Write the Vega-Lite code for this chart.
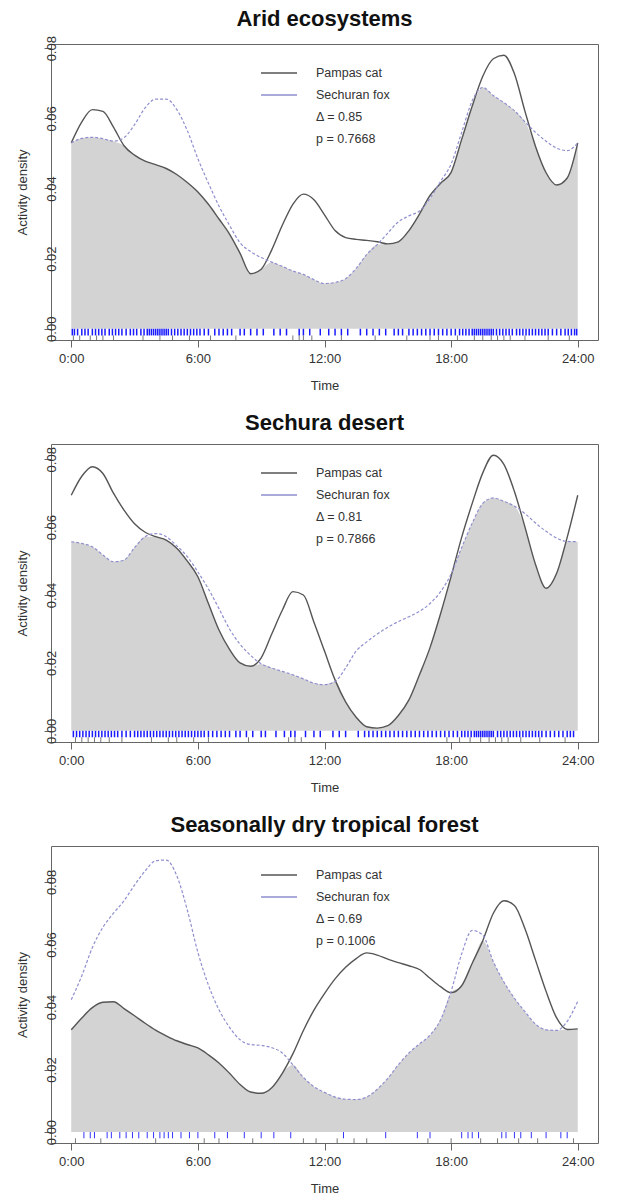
{
"$schema": "https://vega.github.io/schema/vega-lite/v6.json",
"background": "white",
"padding": {"left": 16, "top": 7, "right": 5, "bottom": 3},
"datasets": {
"curves": [
{"panel":1,"species":"Pampas cat","time":0,"density":0.053},{"panel":1,"species":"Pampas cat","time":0.5,"density":0.059},{"panel":1,"species":"Pampas cat","time":1,"density":0.0625},{"panel":1,"species":"Pampas cat","time":1.5,"density":0.062},{"panel":1,"species":"Pampas cat","time":2,"density":0.0575},{"panel":1,"species":"Pampas cat","time":2.5,"density":0.0522},{"panel":1,"species":"Pampas cat","time":3,"density":0.0495},{"panel":1,"species":"Pampas cat","time":3.5,"density":0.0478},{"panel":1,"species":"Pampas cat","time":4,"density":0.0468},{"panel":1,"species":"Pampas cat","time":4.5,"density":0.0457},{"panel":1,"species":"Pampas cat","time":5,"density":0.044},{"panel":1,"species":"Pampas cat","time":5.5,"density":0.0417},{"panel":1,"species":"Pampas cat","time":6,"density":0.039},{"panel":1,"species":"Pampas cat","time":6.5,"density":0.0355},{"panel":1,"species":"Pampas cat","time":7,"density":0.0313},{"panel":1,"species":"Pampas cat","time":7.5,"density":0.027},{"panel":1,"species":"Pampas cat","time":8,"density":0.0215},{"panel":1,"species":"Pampas cat","time":8.5,"density":0.0157},{"panel":1,"species":"Pampas cat","time":9,"density":0.017},{"panel":1,"species":"Pampas cat","time":9.5,"density":0.0225},{"panel":1,"species":"Pampas cat","time":10,"density":0.0295},{"panel":1,"species":"Pampas cat","time":10.5,"density":0.0355},{"panel":1,"species":"Pampas cat","time":11,"density":0.0384},{"panel":1,"species":"Pampas cat","time":11.5,"density":0.0368},{"panel":1,"species":"Pampas cat","time":12,"density":0.0325},{"panel":1,"species":"Pampas cat","time":12.5,"density":0.028},{"panel":1,"species":"Pampas cat","time":13,"density":0.026},{"panel":1,"species":"Pampas cat","time":13.5,"density":0.0255},{"panel":1,"species":"Pampas cat","time":14,"density":0.0252},{"panel":1,"species":"Pampas cat","time":14.5,"density":0.0248},{"panel":1,"species":"Pampas cat","time":15,"density":0.0242},{"panel":1,"species":"Pampas cat","time":15.5,"density":0.0248},{"panel":1,"species":"Pampas cat","time":16,"density":0.028},{"panel":1,"species":"Pampas cat","time":16.5,"density":0.0327},{"panel":1,"species":"Pampas cat","time":17,"density":0.038},{"panel":1,"species":"Pampas cat","time":17.5,"density":0.0415},{"panel":1,"species":"Pampas cat","time":18,"density":0.0446},{"panel":1,"species":"Pampas cat","time":18.5,"density":0.054},{"panel":1,"species":"Pampas cat","time":19,"density":0.0635},{"panel":1,"species":"Pampas cat","time":19.5,"density":0.072},{"panel":1,"species":"Pampas cat","time":20,"density":0.077},{"panel":1,"species":"Pampas cat","time":20.5,"density":0.078},{"panel":1,"species":"Pampas cat","time":21,"density":0.0727},{"panel":1,"species":"Pampas cat","time":21.5,"density":0.062},{"panel":1,"species":"Pampas cat","time":22,"density":0.052},{"panel":1,"species":"Pampas cat","time":22.5,"density":0.0445},{"panel":1,"species":"Pampas cat","time":23,"density":0.041},{"panel":1,"species":"Pampas cat","time":23.5,"density":0.043},{"panel":1,"species":"Pampas cat","time":24,"density":0.053},
{"panel":1,"species":"Sechuran fox","time":0,"density":0.053},{"panel":1,"species":"Sechuran fox","time":0.5,"density":0.0543},{"panel":1,"species":"Sechuran fox","time":1,"density":0.0546},{"panel":1,"species":"Sechuran fox","time":1.5,"density":0.0542},{"panel":1,"species":"Sechuran fox","time":2,"density":0.0535},{"panel":1,"species":"Sechuran fox","time":2.5,"density":0.0545},{"panel":1,"species":"Sechuran fox","time":3,"density":0.0582},{"panel":1,"species":"Sechuran fox","time":3.5,"density":0.063},{"panel":1,"species":"Sechuran fox","time":4,"density":0.0655},{"panel":1,"species":"Sechuran fox","time":4.5,"density":0.0655},{"panel":1,"species":"Sechuran fox","time":5,"density":0.0625},{"panel":1,"species":"Sechuran fox","time":5.5,"density":0.0565},{"panel":1,"species":"Sechuran fox","time":6,"density":0.0485},{"panel":1,"species":"Sechuran fox","time":6.5,"density":0.0415},{"panel":1,"species":"Sechuran fox","time":7,"density":0.035},{"panel":1,"species":"Sechuran fox","time":7.5,"density":0.0295},{"panel":1,"species":"Sechuran fox","time":8,"density":0.0245},{"panel":1,"species":"Sechuran fox","time":8.5,"density":0.022},{"panel":1,"species":"Sechuran fox","time":9,"density":0.0203},{"panel":1,"species":"Sechuran fox","time":9.5,"density":0.019},{"panel":1,"species":"Sechuran fox","time":10,"density":0.0178},{"panel":1,"species":"Sechuran fox","time":10.5,"density":0.0165},{"panel":1,"species":"Sechuran fox","time":11,"density":0.0155},{"panel":1,"species":"Sechuran fox","time":11.5,"density":0.014},{"panel":1,"species":"Sechuran fox","time":12,"density":0.0129},{"panel":1,"species":"Sechuran fox","time":12.5,"density":0.0132},{"panel":1,"species":"Sechuran fox","time":13,"density":0.0143},{"panel":1,"species":"Sechuran fox","time":13.5,"density":0.0172},{"panel":1,"species":"Sechuran fox","time":14,"density":0.0212},{"panel":1,"species":"Sechuran fox","time":14.5,"density":0.024},{"panel":1,"species":"Sechuran fox","time":15,"density":0.0273},{"panel":1,"species":"Sechuran fox","time":15.5,"density":0.0305},{"panel":1,"species":"Sechuran fox","time":16,"density":0.0322},{"panel":1,"species":"Sechuran fox","time":16.5,"density":0.0336},{"panel":1,"species":"Sechuran fox","time":17,"density":0.0372},{"panel":1,"species":"Sechuran fox","time":17.5,"density":0.042},{"panel":1,"species":"Sechuran fox","time":18,"density":0.047},{"panel":1,"species":"Sechuran fox","time":18.5,"density":0.056},{"panel":1,"species":"Sechuran fox","time":19,"density":0.065},{"panel":1,"species":"Sechuran fox","time":19.5,"density":0.0688},{"panel":1,"species":"Sechuran fox","time":20,"density":0.0665},{"panel":1,"species":"Sechuran fox","time":20.5,"density":0.0645},{"panel":1,"species":"Sechuran fox","time":21,"density":0.0622},{"panel":1,"species":"Sechuran fox","time":21.5,"density":0.059},{"panel":1,"species":"Sechuran fox","time":22,"density":0.056},{"panel":1,"species":"Sechuran fox","time":22.5,"density":0.0535},{"panel":1,"species":"Sechuran fox","time":23,"density":0.0515},{"panel":1,"species":"Sechuran fox","time":23.5,"density":0.0508},{"panel":1,"species":"Sechuran fox","time":24,"density":0.053},
{"panel":2,"species":"Pampas cat","time":0,"density":0.0694},{"panel":2,"species":"Pampas cat","time":0.5,"density":0.075},{"panel":2,"species":"Pampas cat","time":1,"density":0.0778},{"panel":2,"species":"Pampas cat","time":1.5,"density":0.0758},{"panel":2,"species":"Pampas cat","time":2,"density":0.07},{"panel":2,"species":"Pampas cat","time":2.5,"density":0.065},{"panel":2,"species":"Pampas cat","time":3,"density":0.061},{"panel":2,"species":"Pampas cat","time":3.5,"density":0.0585},{"panel":2,"species":"Pampas cat","time":4,"density":0.0572},{"panel":2,"species":"Pampas cat","time":4.5,"density":0.0562},{"panel":2,"species":"Pampas cat","time":5,"density":0.0538},{"panel":2,"species":"Pampas cat","time":5.5,"density":0.05},{"panel":2,"species":"Pampas cat","time":6,"density":0.0454},{"panel":2,"species":"Pampas cat","time":6.5,"density":0.0375},{"panel":2,"species":"Pampas cat","time":7,"density":0.0297},{"panel":2,"species":"Pampas cat","time":7.5,"density":0.024},{"panel":2,"species":"Pampas cat","time":8,"density":0.02},{"panel":2,"species":"Pampas cat","time":8.5,"density":0.019},{"panel":2,"species":"Pampas cat","time":9,"density":0.0215},{"panel":2,"species":"Pampas cat","time":9.5,"density":0.0285},{"panel":2,"species":"Pampas cat","time":10,"density":0.0355},{"panel":2,"species":"Pampas cat","time":10.5,"density":0.041},{"panel":2,"species":"Pampas cat","time":11,"density":0.04},{"panel":2,"species":"Pampas cat","time":11.5,"density":0.032},{"panel":2,"species":"Pampas cat","time":12,"density":0.0235},{"panel":2,"species":"Pampas cat","time":12.5,"density":0.015},{"panel":2,"species":"Pampas cat","time":13,"density":0.0085},{"panel":2,"species":"Pampas cat","time":13.5,"density":0.004},{"panel":2,"species":"Pampas cat","time":14,"density":0.0012},{"panel":2,"species":"Pampas cat","time":14.5,"density":0.0008},{"panel":2,"species":"Pampas cat","time":15,"density":0.0015},{"panel":2,"species":"Pampas cat","time":15.5,"density":0.0045},{"panel":2,"species":"Pampas cat","time":16,"density":0.0091},{"panel":2,"species":"Pampas cat","time":16.5,"density":0.0165},{"panel":2,"species":"Pampas cat","time":17,"density":0.0245},{"panel":2,"species":"Pampas cat","time":17.5,"density":0.0345},{"panel":2,"species":"Pampas cat","time":18,"density":0.0455},{"panel":2,"species":"Pampas cat","time":18.5,"density":0.057},{"panel":2,"species":"Pampas cat","time":19,"density":0.067},{"panel":2,"species":"Pampas cat","time":19.5,"density":0.076},{"panel":2,"species":"Pampas cat","time":20,"density":0.0812},{"panel":2,"species":"Pampas cat","time":20.5,"density":0.0785},{"panel":2,"species":"Pampas cat","time":21,"density":0.0705},{"panel":2,"species":"Pampas cat","time":21.5,"density":0.06},{"panel":2,"species":"Pampas cat","time":22,"density":0.049},{"panel":2,"species":"Pampas cat","time":22.5,"density":0.042},{"panel":2,"species":"Pampas cat","time":23,"density":0.0464},{"panel":2,"species":"Pampas cat","time":23.5,"density":0.057},{"panel":2,"species":"Pampas cat","time":24,"density":0.0694},
{"panel":2,"species":"Sechuran fox","time":0,"density":0.0557},{"panel":2,"species":"Sechuran fox","time":0.5,"density":0.0552},{"panel":2,"species":"Sechuran fox","time":1,"density":0.0542},{"panel":2,"species":"Sechuran fox","time":1.5,"density":0.0518},{"panel":2,"species":"Sechuran fox","time":2,"density":0.0498},{"panel":2,"species":"Sechuran fox","time":2.5,"density":0.0503},{"panel":2,"species":"Sechuran fox","time":3,"density":0.054},{"panel":2,"species":"Sechuran fox","time":3.5,"density":0.0572},{"panel":2,"species":"Sechuran fox","time":4,"density":0.0581},{"panel":2,"species":"Sechuran fox","time":4.5,"density":0.0572},{"panel":2,"species":"Sechuran fox","time":5,"density":0.0545},{"panel":2,"species":"Sechuran fox","time":5.5,"density":0.0513},{"panel":2,"species":"Sechuran fox","time":6,"density":0.0468},{"panel":2,"species":"Sechuran fox","time":6.5,"density":0.0418},{"panel":2,"species":"Sechuran fox","time":7,"density":0.036},{"panel":2,"species":"Sechuran fox","time":7.5,"density":0.03},{"panel":2,"species":"Sechuran fox","time":8,"density":0.0255},{"panel":2,"species":"Sechuran fox","time":8.5,"density":0.0222},{"panel":2,"species":"Sechuran fox","time":9,"density":0.0197},{"panel":2,"species":"Sechuran fox","time":9.5,"density":0.0185},{"panel":2,"species":"Sechuran fox","time":10,"density":0.0175},{"panel":2,"species":"Sechuran fox","time":10.5,"density":0.0165},{"panel":2,"species":"Sechuran fox","time":11,"density":0.0153},{"panel":2,"species":"Sechuran fox","time":11.5,"density":0.014},{"panel":2,"species":"Sechuran fox","time":12,"density":0.0136},{"panel":2,"species":"Sechuran fox","time":12.5,"density":0.0145},{"panel":2,"species":"Sechuran fox","time":13,"density":0.0185},{"panel":2,"species":"Sechuran fox","time":13.5,"density":0.0235},{"panel":2,"species":"Sechuran fox","time":14,"density":0.0262},{"panel":2,"species":"Sechuran fox","time":14.5,"density":0.0285},{"panel":2,"species":"Sechuran fox","time":15,"density":0.0305},{"panel":2,"species":"Sechuran fox","time":15.5,"density":0.0322},{"panel":2,"species":"Sechuran fox","time":16,"density":0.0336},{"panel":2,"species":"Sechuran fox","time":16.5,"density":0.0352},{"panel":2,"species":"Sechuran fox","time":17,"density":0.0375},{"panel":2,"species":"Sechuran fox","time":17.5,"density":0.041},{"panel":2,"species":"Sechuran fox","time":18,"density":0.0462},{"panel":2,"species":"Sechuran fox","time":18.5,"density":0.054},{"panel":2,"species":"Sechuran fox","time":19,"density":0.0612},{"panel":2,"species":"Sechuran fox","time":19.5,"density":0.067},{"panel":2,"species":"Sechuran fox","time":20,"density":0.0686},{"panel":2,"species":"Sechuran fox","time":20.5,"density":0.0676},{"panel":2,"species":"Sechuran fox","time":21,"density":0.0662},{"panel":2,"species":"Sechuran fox","time":21.5,"density":0.064},{"panel":2,"species":"Sechuran fox","time":22,"density":0.0612},{"panel":2,"species":"Sechuran fox","time":22.5,"density":0.0588},{"panel":2,"species":"Sechuran fox","time":23,"density":0.0568},{"panel":2,"species":"Sechuran fox","time":23.5,"density":0.0558},{"panel":2,"species":"Sechuran fox","time":24,"density":0.0557},
{"panel":3,"species":"Pampas cat","time":0,"density":0.0327},{"panel":3,"species":"Pampas cat","time":0.5,"density":0.0365},{"panel":3,"species":"Pampas cat","time":1,"density":0.0398},{"panel":3,"species":"Pampas cat","time":1.5,"density":0.0415},{"panel":3,"species":"Pampas cat","time":2,"density":0.0417},{"panel":3,"species":"Pampas cat","time":2.5,"density":0.0395},{"panel":3,"species":"Pampas cat","time":3,"density":0.0372},{"panel":3,"species":"Pampas cat","time":3.5,"density":0.0348},{"panel":3,"species":"Pampas cat","time":4,"density":0.0326},{"panel":3,"species":"Pampas cat","time":4.5,"density":0.0308},{"panel":3,"species":"Pampas cat","time":5,"density":0.0292},{"panel":3,"species":"Pampas cat","time":5.5,"density":0.028},{"panel":3,"species":"Pampas cat","time":6,"density":0.0269},{"panel":3,"species":"Pampas cat","time":6.5,"density":0.0247},{"panel":3,"species":"Pampas cat","time":7,"density":0.0221},{"panel":3,"species":"Pampas cat","time":7.5,"density":0.0188},{"panel":3,"species":"Pampas cat","time":8,"density":0.0152},{"panel":3,"species":"Pampas cat","time":8.5,"density":0.0128},{"panel":3,"species":"Pampas cat","time":9,"density":0.0124},{"panel":3,"species":"Pampas cat","time":9.5,"density":0.0142},{"panel":3,"species":"Pampas cat","time":10,"density":0.0188},{"panel":3,"species":"Pampas cat","time":10.5,"density":0.025},{"panel":3,"species":"Pampas cat","time":11,"density":0.0325},{"panel":3,"species":"Pampas cat","time":11.5,"density":0.039},{"panel":3,"species":"Pampas cat","time":12,"density":0.0443},{"panel":3,"species":"Pampas cat","time":12.5,"density":0.049},{"panel":3,"species":"Pampas cat","time":13,"density":0.0527},{"panel":3,"species":"Pampas cat","time":13.5,"density":0.0555},{"panel":3,"species":"Pampas cat","time":14,"density":0.0573},{"panel":3,"species":"Pampas cat","time":14.5,"density":0.0566},{"panel":3,"species":"Pampas cat","time":15,"density":0.0553},{"panel":3,"species":"Pampas cat","time":15.5,"density":0.0542},{"panel":3,"species":"Pampas cat","time":16,"density":0.0532},{"panel":3,"species":"Pampas cat","time":16.5,"density":0.052},{"panel":3,"species":"Pampas cat","time":17,"density":0.0492},{"panel":3,"species":"Pampas cat","time":17.5,"density":0.0465},{"panel":3,"species":"Pampas cat","time":18,"density":0.0446},{"panel":3,"species":"Pampas cat","time":18.5,"density":0.0468},{"panel":3,"species":"Pampas cat","time":19,"density":0.054},{"panel":3,"species":"Pampas cat","time":19.5,"density":0.0612},{"panel":3,"species":"Pampas cat","time":20,"density":0.07},{"panel":3,"species":"Pampas cat","time":20.5,"density":0.074},{"panel":3,"species":"Pampas cat","time":21,"density":0.0725},{"panel":3,"species":"Pampas cat","time":21.5,"density":0.065},{"panel":3,"species":"Pampas cat","time":22,"density":0.055},{"panel":3,"species":"Pampas cat","time":22.5,"density":0.045},{"panel":3,"species":"Pampas cat","time":23,"density":0.0365},{"panel":3,"species":"Pampas cat","time":23.5,"density":0.0328},{"panel":3,"species":"Pampas cat","time":24,"density":0.033},
{"panel":3,"species":"Sechuran fox","time":0,"density":0.0423},{"panel":3,"species":"Sechuran fox","time":0.5,"density":0.05},{"panel":3,"species":"Sechuran fox","time":1,"density":0.059},{"panel":3,"species":"Sechuran fox","time":1.5,"density":0.0655},{"panel":3,"species":"Sechuran fox","time":2,"density":0.07},{"panel":3,"species":"Sechuran fox","time":2.5,"density":0.074},{"panel":3,"species":"Sechuran fox","time":3,"density":0.079},{"panel":3,"species":"Sechuran fox","time":3.5,"density":0.0835},{"panel":3,"species":"Sechuran fox","time":4,"density":0.0868},{"panel":3,"species":"Sechuran fox","time":4.5,"density":0.087},{"panel":3,"species":"Sechuran fox","time":5,"density":0.082},{"panel":3,"species":"Sechuran fox","time":5.5,"density":0.071},{"panel":3,"species":"Sechuran fox","time":6,"density":0.0575},{"panel":3,"species":"Sechuran fox","time":6.5,"density":0.047},{"panel":3,"species":"Sechuran fox","time":7,"density":0.0391},{"panel":3,"species":"Sechuran fox","time":7.5,"density":0.0335},{"panel":3,"species":"Sechuran fox","time":8,"density":0.0295},{"panel":3,"species":"Sechuran fox","time":8.5,"density":0.028},{"panel":3,"species":"Sechuran fox","time":9,"density":0.0277},{"panel":3,"species":"Sechuran fox","time":9.5,"density":0.027},{"panel":3,"species":"Sechuran fox","time":10,"density":0.0253},{"panel":3,"species":"Sechuran fox","time":10.5,"density":0.0215},{"panel":3,"species":"Sechuran fox","time":11,"density":0.0175},{"panel":3,"species":"Sechuran fox","time":11.5,"density":0.0145},{"panel":3,"species":"Sechuran fox","time":12,"density":0.0127},{"panel":3,"species":"Sechuran fox","time":12.5,"density":0.0112},{"panel":3,"species":"Sechuran fox","time":13,"density":0.0105},{"panel":3,"species":"Sechuran fox","time":13.5,"density":0.0104},{"panel":3,"species":"Sechuran fox","time":14,"density":0.0112},{"panel":3,"species":"Sechuran fox","time":14.5,"density":0.0137},{"panel":3,"species":"Sechuran fox","time":15,"density":0.0172},{"panel":3,"species":"Sechuran fox","time":15.5,"density":0.0215},{"panel":3,"species":"Sechuran fox","time":16,"density":0.0253},{"panel":3,"species":"Sechuran fox","time":16.5,"density":0.0282},{"panel":3,"species":"Sechuran fox","time":17,"density":0.031},{"panel":3,"species":"Sechuran fox","time":17.5,"density":0.0359},{"panel":3,"species":"Sechuran fox","time":18,"density":0.045},{"panel":3,"species":"Sechuran fox","time":18.5,"density":0.057},{"panel":3,"species":"Sechuran fox","time":19,"density":0.0645},{"panel":3,"species":"Sechuran fox","time":19.5,"density":0.063},{"panel":3,"species":"Sechuran fox","time":20,"density":0.0545},{"panel":3,"species":"Sechuran fox","time":20.5,"density":0.048},{"panel":3,"species":"Sechuran fox","time":21,"density":0.0428},{"panel":3,"species":"Sechuran fox","time":21.5,"density":0.0385},{"panel":3,"species":"Sechuran fox","time":22,"density":0.0345},{"panel":3,"species":"Sechuran fox","time":22.5,"density":0.0327},{"panel":3,"species":"Sechuran fox","time":23,"density":0.0325},{"panel":3,"species":"Sechuran fox","time":23.5,"density":0.0354},{"panel":3,"species":"Sechuran fox","time":24,"density":0.0418}
],
"rug": [
{"panel":1,"species":"Sechuran fox","time":0.05},{"panel":1,"species":"Sechuran fox","time":0.15},{"panel":1,"species":"Sechuran fox","time":0.3},{"panel":1,"species":"Sechuran fox","time":0.5},{"panel":1,"species":"Sechuran fox","time":0.65},{"panel":1,"species":"Sechuran fox","time":0.8},{"panel":1,"species":"Sechuran fox","time":1.0},{"panel":1,"species":"Sechuran fox","time":1.15},{"panel":1,"species":"Sechuran fox","time":1.3},{"panel":1,"species":"Sechuran fox","time":1.45},{"panel":1,"species":"Sechuran fox","time":1.6},{"panel":1,"species":"Sechuran fox","time":1.8},{"panel":1,"species":"Sechuran fox","time":1.95},{"panel":1,"species":"Sechuran fox","time":2.1},{"panel":1,"species":"Sechuran fox","time":2.25},{"panel":1,"species":"Sechuran fox","time":2.4},{"panel":1,"species":"Sechuran fox","time":2.6},{"panel":1,"species":"Sechuran fox","time":2.8},{"panel":1,"species":"Sechuran fox","time":2.95},{"panel":1,"species":"Sechuran fox","time":3.1},{"panel":1,"species":"Sechuran fox","time":3.3},{"panel":1,"species":"Sechuran fox","time":3.45},{"panel":1,"species":"Sechuran fox","time":3.6},{"panel":1,"species":"Sechuran fox","time":3.7},{"panel":1,"species":"Sechuran fox","time":3.8},{"panel":1,"species":"Sechuran fox","time":3.9},{"panel":1,"species":"Sechuran fox","time":4.0},{"panel":1,"species":"Sechuran fox","time":4.1},{"panel":1,"species":"Sechuran fox","time":4.2},{"panel":1,"species":"Sechuran fox","time":4.3},{"panel":1,"species":"Sechuran fox","time":4.4},{"panel":1,"species":"Sechuran fox","time":4.5},{"panel":1,"species":"Sechuran fox","time":4.6},{"panel":1,"species":"Sechuran fox","time":4.75},{"panel":1,"species":"Sechuran fox","time":4.9},{"panel":1,"species":"Sechuran fox","time":5.05},{"panel":1,"species":"Sechuran fox","time":5.2},{"panel":1,"species":"Sechuran fox","time":5.35},{"panel":1,"species":"Sechuran fox","time":5.5},{"panel":1,"species":"Sechuran fox","time":5.65},{"panel":1,"species":"Sechuran fox","time":5.8},{"panel":1,"species":"Sechuran fox","time":5.95},{"panel":1,"species":"Sechuran fox","time":6.1},{"panel":1,"species":"Sechuran fox","time":6.3},{"panel":1,"species":"Sechuran fox","time":6.5},{"panel":1,"species":"Sechuran fox","time":6.8},{"panel":1,"species":"Sechuran fox","time":7.0},{"panel":1,"species":"Sechuran fox","time":7.2},{"panel":1,"species":"Sechuran fox","time":7.4},{"panel":1,"species":"Sechuran fox","time":7.6},{"panel":1,"species":"Sechuran fox","time":8.0},{"panel":1,"species":"Sechuran fox","time":8.2},{"panel":1,"species":"Sechuran fox","time":8.5},{"panel":1,"species":"Sechuran fox","time":8.8},{"panel":1,"species":"Sechuran fox","time":9.1},{"panel":1,"species":"Sechuran fox","time":9.6},{"panel":1,"species":"Sechuran fox","time":9.9},{"panel":1,"species":"Sechuran fox","time":10.2},{"panel":1,"species":"Sechuran fox","time":10.8},{"panel":1,"species":"Sechuran fox","time":11.0},{"panel":1,"species":"Sechuran fox","time":11.3},{"panel":1,"species":"Sechuran fox","time":11.8},{"panel":1,"species":"Sechuran fox","time":12.2},{"panel":1,"species":"Sechuran fox","time":12.5},{"panel":1,"species":"Sechuran fox","time":12.8},{"panel":1,"species":"Sechuran fox","time":13.1},{"panel":1,"species":"Sechuran fox","time":13.7},{"panel":1,"species":"Sechuran fox","time":14.0},{"panel":1,"species":"Sechuran fox","time":14.3},{"panel":1,"species":"Sechuran fox","time":14.6},{"panel":1,"species":"Sechuran fox","time":14.9},{"panel":1,"species":"Sechuran fox","time":15.3},{"panel":1,"species":"Sechuran fox","time":15.5},{"panel":1,"species":"Sechuran fox","time":15.7},{"panel":1,"species":"Sechuran fox","time":16.0},{"panel":1,"species":"Sechuran fox","time":16.2},{"panel":1,"species":"Sechuran fox","time":16.4},{"panel":1,"species":"Sechuran fox","time":16.6},{"panel":1,"species":"Sechuran fox","time":16.8},{"panel":1,"species":"Sechuran fox","time":17.0},{"panel":1,"species":"Sechuran fox","time":17.2},{"panel":1,"species":"Sechuran fox","time":17.4},{"panel":1,"species":"Sechuran fox","time":17.6},{"panel":1,"species":"Sechuran fox","time":17.8},{"panel":1,"species":"Sechuran fox","time":18.0},{"panel":1,"species":"Sechuran fox","time":18.2},{"panel":1,"species":"Sechuran fox","time":18.4},{"panel":1,"species":"Sechuran fox","time":18.55},{"panel":1,"species":"Sechuran fox","time":18.7},{"panel":1,"species":"Sechuran fox","time":18.85},{"panel":1,"species":"Sechuran fox","time":19.0},{"panel":1,"species":"Sechuran fox","time":19.1},{"panel":1,"species":"Sechuran fox","time":19.2},{"panel":1,"species":"Sechuran fox","time":19.3},{"panel":1,"species":"Sechuran fox","time":19.4},{"panel":1,"species":"Sechuran fox","time":19.5},{"panel":1,"species":"Sechuran fox","time":19.6},{"panel":1,"species":"Sechuran fox","time":19.7},{"panel":1,"species":"Sechuran fox","time":19.8},{"panel":1,"species":"Sechuran fox","time":19.9},{"panel":1,"species":"Sechuran fox","time":20.0},{"panel":1,"species":"Sechuran fox","time":20.15},{"panel":1,"species":"Sechuran fox","time":20.3},{"panel":1,"species":"Sechuran fox","time":20.45},{"panel":1,"species":"Sechuran fox","time":20.6},{"panel":1,"species":"Sechuran fox","time":20.75},{"panel":1,"species":"Sechuran fox","time":20.9},{"panel":1,"species":"Sechuran fox","time":21.1},{"panel":1,"species":"Sechuran fox","time":21.25},{"panel":1,"species":"Sechuran fox","time":21.4},{"panel":1,"species":"Sechuran fox","time":21.55},{"panel":1,"species":"Sechuran fox","time":21.7},{"panel":1,"species":"Sechuran fox","time":21.85},{"panel":1,"species":"Sechuran fox","time":22.0},{"panel":1,"species":"Sechuran fox","time":22.15},{"panel":1,"species":"Sechuran fox","time":22.3},{"panel":1,"species":"Sechuran fox","time":22.45},{"panel":1,"species":"Sechuran fox","time":22.6},{"panel":1,"species":"Sechuran fox","time":22.8},{"panel":1,"species":"Sechuran fox","time":23.0},{"panel":1,"species":"Sechuran fox","time":23.2},{"panel":1,"species":"Sechuran fox","time":23.4},{"panel":1,"species":"Sechuran fox","time":23.55},{"panel":1,"species":"Sechuran fox","time":23.7},{"panel":1,"species":"Sechuran fox","time":23.85},{"panel":1,"species":"Sechuran fox","time":23.95},
{"panel":1,"species":"Pampas cat","time":0.1},{"panel":1,"species":"Pampas cat","time":0.4},{"panel":1,"species":"Pampas cat","time":0.9},{"panel":1,"species":"Pampas cat","time":1.2},{"panel":1,"species":"Pampas cat","time":1.5},{"panel":1,"species":"Pampas cat","time":2.0},{"panel":1,"species":"Pampas cat","time":3.4},{"panel":1,"species":"Pampas cat","time":4.2},{"panel":1,"species":"Pampas cat","time":4.8},{"panel":1,"species":"Pampas cat","time":5.6},{"panel":1,"species":"Pampas cat","time":6.6},{"panel":1,"species":"Pampas cat","time":7.8},{"panel":1,"species":"Pampas cat","time":10.5},{"panel":1,"species":"Pampas cat","time":10.8},{"panel":1,"species":"Pampas cat","time":11.0},{"panel":1,"species":"Pampas cat","time":11.4},{"panel":1,"species":"Pampas cat","time":12.8},{"panel":1,"species":"Pampas cat","time":14.4},{"panel":1,"species":"Pampas cat","time":15.9},{"panel":1,"species":"Pampas cat","time":17.0},{"panel":1,"species":"Pampas cat","time":17.4},{"panel":1,"species":"Pampas cat","time":18.3},{"panel":1,"species":"Pampas cat","time":19.1},{"panel":1,"species":"Pampas cat","time":19.5},{"panel":1,"species":"Pampas cat","time":19.9},{"panel":1,"species":"Pampas cat","time":20.2},{"panel":1,"species":"Pampas cat","time":20.5},{"panel":1,"species":"Pampas cat","time":20.8},{"panel":1,"species":"Pampas cat","time":21.5},{"panel":1,"species":"Pampas cat","time":22.6},{"panel":1,"species":"Pampas cat","time":23.6},
{"panel":2,"species":"Sechuran fox","time":0.1},{"panel":2,"species":"Sechuran fox","time":0.25},{"panel":2,"species":"Sechuran fox","time":0.4},{"panel":2,"species":"Sechuran fox","time":0.55},{"panel":2,"species":"Sechuran fox","time":0.7},{"panel":2,"species":"Sechuran fox","time":0.85},{"panel":2,"species":"Sechuran fox","time":1.0},{"panel":2,"species":"Sechuran fox","time":1.15},{"panel":2,"species":"Sechuran fox","time":1.3},{"panel":2,"species":"Sechuran fox","time":1.45},{"panel":2,"species":"Sechuran fox","time":1.6},{"panel":2,"species":"Sechuran fox","time":1.75},{"panel":2,"species":"Sechuran fox","time":1.9},{"panel":2,"species":"Sechuran fox","time":2.05},{"panel":2,"species":"Sechuran fox","time":2.2},{"panel":2,"species":"Sechuran fox","time":2.4},{"panel":2,"species":"Sechuran fox","time":2.6},{"panel":2,"species":"Sechuran fox","time":2.8},{"panel":2,"species":"Sechuran fox","time":3.0},{"panel":2,"species":"Sechuran fox","time":3.15},{"panel":2,"species":"Sechuran fox","time":3.3},{"panel":2,"species":"Sechuran fox","time":3.45},{"panel":2,"species":"Sechuran fox","time":3.6},{"panel":2,"species":"Sechuran fox","time":3.75},{"panel":2,"species":"Sechuran fox","time":3.9},{"panel":2,"species":"Sechuran fox","time":4.05},{"panel":2,"species":"Sechuran fox","time":4.2},{"panel":2,"species":"Sechuran fox","time":4.35},{"panel":2,"species":"Sechuran fox","time":4.5},{"panel":2,"species":"Sechuran fox","time":4.65},{"panel":2,"species":"Sechuran fox","time":4.8},{"panel":2,"species":"Sechuran fox","time":4.95},{"panel":2,"species":"Sechuran fox","time":5.1},{"panel":2,"species":"Sechuran fox","time":5.25},{"panel":2,"species":"Sechuran fox","time":5.4},{"panel":2,"species":"Sechuran fox","time":5.55},{"panel":2,"species":"Sechuran fox","time":5.7},{"panel":2,"species":"Sechuran fox","time":5.85},{"panel":2,"species":"Sechuran fox","time":6.0},{"panel":2,"species":"Sechuran fox","time":6.15},{"panel":2,"species":"Sechuran fox","time":6.3},{"panel":2,"species":"Sechuran fox","time":6.5},{"panel":2,"species":"Sechuran fox","time":6.7},{"panel":2,"species":"Sechuran fox","time":6.9},{"panel":2,"species":"Sechuran fox","time":7.1},{"panel":2,"species":"Sechuran fox","time":7.3},{"panel":2,"species":"Sechuran fox","time":7.5},{"panel":2,"species":"Sechuran fox","time":7.8},{"panel":2,"species":"Sechuran fox","time":8.0},{"panel":2,"species":"Sechuran fox","time":8.3},{"panel":2,"species":"Sechuran fox","time":8.6},{"panel":2,"species":"Sechuran fox","time":9.0},{"panel":2,"species":"Sechuran fox","time":9.2},{"panel":2,"species":"Sechuran fox","time":9.7},{"panel":2,"species":"Sechuran fox","time":10.1},{"panel":2,"species":"Sechuran fox","time":10.4},{"panel":2,"species":"Sechuran fox","time":10.6},{"panel":2,"species":"Sechuran fox","time":11.1},{"panel":2,"species":"Sechuran fox","time":11.5},{"panel":2,"species":"Sechuran fox","time":11.8},{"panel":2,"species":"Sechuran fox","time":12.4},{"panel":2,"species":"Sechuran fox","time":12.7},{"panel":2,"species":"Sechuran fox","time":13.0},{"panel":2,"species":"Sechuran fox","time":13.6},{"panel":2,"species":"Sechuran fox","time":13.9},{"panel":2,"species":"Sechuran fox","time":14.1},{"panel":2,"species":"Sechuran fox","time":14.3},{"panel":2,"species":"Sechuran fox","time":14.5},{"panel":2,"species":"Sechuran fox","time":14.7},{"panel":2,"species":"Sechuran fox","time":14.9},{"panel":2,"species":"Sechuran fox","time":15.1},{"panel":2,"species":"Sechuran fox","time":15.3},{"panel":2,"species":"Sechuran fox","time":15.5},{"panel":2,"species":"Sechuran fox","time":15.7},{"panel":2,"species":"Sechuran fox","time":15.9},{"panel":2,"species":"Sechuran fox","time":16.1},{"panel":2,"species":"Sechuran fox","time":16.3},{"panel":2,"species":"Sechuran fox","time":16.5},{"panel":2,"species":"Sechuran fox","time":16.7},{"panel":2,"species":"Sechuran fox","time":16.9},{"panel":2,"species":"Sechuran fox","time":17.1},{"panel":2,"species":"Sechuran fox","time":17.3},{"panel":2,"species":"Sechuran fox","time":17.5},{"panel":2,"species":"Sechuran fox","time":17.7},{"panel":2,"species":"Sechuran fox","time":17.9},{"panel":2,"species":"Sechuran fox","time":18.1},{"panel":2,"species":"Sechuran fox","time":18.3},{"panel":2,"species":"Sechuran fox","time":18.5},{"panel":2,"species":"Sechuran fox","time":18.65},{"panel":2,"species":"Sechuran fox","time":18.8},{"panel":2,"species":"Sechuran fox","time":18.95},{"panel":2,"species":"Sechuran fox","time":19.1},{"panel":2,"species":"Sechuran fox","time":19.2},{"panel":2,"species":"Sechuran fox","time":19.3},{"panel":2,"species":"Sechuran fox","time":19.4},{"panel":2,"species":"Sechuran fox","time":19.5},{"panel":2,"species":"Sechuran fox","time":19.6},{"panel":2,"species":"Sechuran fox","time":19.7},{"panel":2,"species":"Sechuran fox","time":19.8},{"panel":2,"species":"Sechuran fox","time":19.9},{"panel":2,"species":"Sechuran fox","time":20.0},{"panel":2,"species":"Sechuran fox","time":20.2},{"panel":2,"species":"Sechuran fox","time":20.35},{"panel":2,"species":"Sechuran fox","time":20.5},{"panel":2,"species":"Sechuran fox","time":20.65},{"panel":2,"species":"Sechuran fox","time":20.8},{"panel":2,"species":"Sechuran fox","time":20.95},{"panel":2,"species":"Sechuran fox","time":21.1},{"panel":2,"species":"Sechuran fox","time":21.25},{"panel":2,"species":"Sechuran fox","time":21.4},{"panel":2,"species":"Sechuran fox","time":21.55},{"panel":2,"species":"Sechuran fox","time":21.7},{"panel":2,"species":"Sechuran fox","time":21.85},{"panel":2,"species":"Sechuran fox","time":22.0},{"panel":2,"species":"Sechuran fox","time":22.15},{"panel":2,"species":"Sechuran fox","time":22.3},{"panel":2,"species":"Sechuran fox","time":22.5},{"panel":2,"species":"Sechuran fox","time":22.7},{"panel":2,"species":"Sechuran fox","time":22.9},{"panel":2,"species":"Sechuran fox","time":23.1},{"panel":2,"species":"Sechuran fox","time":23.3},{"panel":2,"species":"Sechuran fox","time":23.5},{"panel":2,"species":"Sechuran fox","time":23.65},{"panel":2,"species":"Sechuran fox","time":23.8},
{"panel":2,"species":"Pampas cat","time":0.2},{"panel":2,"species":"Pampas cat","time":0.5},{"panel":2,"species":"Pampas cat","time":0.8},{"panel":2,"species":"Pampas cat","time":1.1},{"panel":2,"species":"Pampas cat","time":1.4},{"panel":2,"species":"Pampas cat","time":1.8},{"panel":2,"species":"Pampas cat","time":2.4},{"panel":2,"species":"Pampas cat","time":3.8},{"panel":2,"species":"Pampas cat","time":4.6},{"panel":2,"species":"Pampas cat","time":5.0},{"panel":2,"species":"Pampas cat","time":5.8},{"panel":2,"species":"Pampas cat","time":6.5},{"panel":2,"species":"Pampas cat","time":8.4},{"panel":2,"species":"Pampas cat","time":10.3},{"panel":2,"species":"Pampas cat","time":10.6},{"panel":2,"species":"Pampas cat","time":10.9},{"panel":2,"species":"Pampas cat","time":17.8},{"panel":2,"species":"Pampas cat","time":18.4},{"panel":2,"species":"Pampas cat","time":18.9},{"panel":2,"species":"Pampas cat","time":19.4},{"panel":2,"species":"Pampas cat","time":19.8},{"panel":2,"species":"Pampas cat","time":20.1},{"panel":2,"species":"Pampas cat","time":20.4},{"panel":2,"species":"Pampas cat","time":20.7},{"panel":2,"species":"Pampas cat","time":21.3},{"panel":2,"species":"Pampas cat","time":22.2},{"panel":2,"species":"Pampas cat","time":23.4},
{"panel":3,"species":"Sechuran fox","time":0.6},{"panel":3,"species":"Sechuran fox","time":0.9},{"panel":3,"species":"Sechuran fox","time":1.1},{"panel":3,"species":"Sechuran fox","time":1.7},{"panel":3,"species":"Sechuran fox","time":1.9},{"panel":3,"species":"Sechuran fox","time":2.3},{"panel":3,"species":"Sechuran fox","time":2.6},{"panel":3,"species":"Sechuran fox","time":2.9},{"panel":3,"species":"Sechuran fox","time":3.2},{"panel":3,"species":"Sechuran fox","time":3.6},{"panel":3,"species":"Sechuran fox","time":3.9},{"panel":3,"species":"Sechuran fox","time":4.2},{"panel":3,"species":"Sechuran fox","time":4.4},{"panel":3,"species":"Sechuran fox","time":4.6},{"panel":3,"species":"Sechuran fox","time":4.8},{"panel":3,"species":"Sechuran fox","time":5.2},{"panel":3,"species":"Sechuran fox","time":5.6},{"panel":3,"species":"Sechuran fox","time":6.0},{"panel":3,"species":"Sechuran fox","time":6.8},{"panel":3,"species":"Sechuran fox","time":7.4},{"panel":3,"species":"Sechuran fox","time":8.2},{"panel":3,"species":"Sechuran fox","time":9.0},{"panel":3,"species":"Sechuran fox","time":9.6},{"panel":3,"species":"Sechuran fox","time":10.4},{"panel":3,"species":"Sechuran fox","time":12.9},{"panel":3,"species":"Sechuran fox","time":14.9},{"panel":3,"species":"Sechuran fox","time":16.4},{"panel":3,"species":"Sechuran fox","time":17.0},{"panel":3,"species":"Sechuran fox","time":18.5},{"panel":3,"species":"Sechuran fox","time":18.8},{"panel":3,"species":"Sechuran fox","time":19.0},{"panel":3,"species":"Sechuran fox","time":19.3},{"panel":3,"species":"Sechuran fox","time":20.4},{"panel":3,"species":"Sechuran fox","time":20.6},{"panel":3,"species":"Sechuran fox","time":21.0},{"panel":3,"species":"Sechuran fox","time":21.3},{"panel":3,"species":"Sechuran fox","time":21.8},{"panel":3,"species":"Sechuran fox","time":22.5},{"panel":3,"species":"Sechuran fox","time":23.2},{"panel":3,"species":"Sechuran fox","time":23.5},
{"panel":3,"species":"Pampas cat","time":0.2},{"panel":3,"species":"Pampas cat","time":1.4},{"panel":3,"species":"Pampas cat","time":4.0},{"panel":3,"species":"Pampas cat","time":6.3},{"panel":3,"species":"Pampas cat","time":7.0},{"panel":3,"species":"Pampas cat","time":8.6},{"panel":3,"species":"Pampas cat","time":11.0},{"panel":3,"species":"Pampas cat","time":11.6},{"panel":3,"species":"Pampas cat","time":12.6},{"panel":3,"species":"Pampas cat","time":13.4},{"panel":3,"species":"Pampas cat","time":14.0},{"panel":3,"species":"Pampas cat","time":16.9},{"panel":3,"species":"Pampas cat","time":18.0},{"panel":3,"species":"Pampas cat","time":19.4},{"panel":3,"species":"Pampas cat","time":20.2},{"panel":3,"species":"Pampas cat","time":21.2},{"panel":3,"species":"Pampas cat","time":22.1},{"panel":3,"species":"Pampas cat","time":23.8}
]
},
"vconcat": [
{
"title": {"text": "Arid ecosystems", "offset": 5},
"width": 547, "height": 296,
"encoding": {"x": {"field": "time", "type": "quantitative", "title": "Time", "scale": {"domain": [-0.96, 24.96], "nice": false, "zero": false}, "axis": {"values": [0, 6, 12, 18, 24], "labelExpr": "datum.value + ':00'"}}},
"layer": [
{"data": {"name": "curves"}, "transform": [{"filter": "datum.panel == 1"}], "mark": {"type": "area", "color": "#d3d3d3", "interpolate": "monotone"}, "encoding": {"y": {"aggregate": "min", "field": "density", "type": "quantitative", "title": "Activity density", "scale": {"domain": [-0.0032, 0.0812], "nice": false, "zero": false}, "axis": {"values": [0, 0.02, 0.04, 0.06, 0.08], "format": ".2f"}}}},
{"data": {"name": "rug"}, "transform": [{"filter": "datum.panel == 1 && datum.species == 'Sechuran fox'"}], "mark": {"type": "rule", "color": "#1a1aff", "strokeWidth": 1.5}, "encoding": {"y": {"datum": 0, "type": "quantitative"}, "y2": {"datum": -0.0019}}},
{"data": {"name": "rug"}, "transform": [{"filter": "datum.panel == 1 && datum.species == 'Pampas cat'"}], "mark": {"type": "rule", "color": "#555555", "strokeWidth": 0.8}, "encoding": {"y": {"datum": -0.0019, "type": "quantitative"}, "y2": {"datum": -0.0032}}},
{"data": {"name": "curves"}, "transform": [{"filter": "datum.panel == 1 && datum.species == 'Pampas cat'"}], "mark": {"type": "line", "interpolate": "monotone", "strokeWidth": 1.4}, "encoding": {"y": {"field": "density", "type": "quantitative", "title": "Activity density"}, "color": {"field": "species", "type": "nominal", "scale": {"domain": ["Pampas cat", "Sechuran fox", "Δ = 0.85", "p = 0.7668"], "range": ["#555555", "#8f8fcf", "transparent", "transparent"]}, "legend": {"orient": "none", "legendX": 218, "legendY": 19, "title": null}}}},
{"data": {"name": "curves"}, "transform": [{"filter": "datum.panel == 1 && datum.species == 'Sechuran fox'"}], "mark": {"type": "line", "interpolate": "monotone", "strokeWidth": 1.2, "strokeDash": [3, 2]}, "encoding": {"y": {"field": "density", "type": "quantitative", "title": "Activity density"}, "color": {"field": "species", "type": "nominal"}}}
]
},
{
"title": {"text": "Sechura desert", "offset": 9},
"width": 547, "height": 298,
"encoding": {"x": {"field": "time", "type": "quantitative", "title": "Time", "scale": {"domain": [-0.96, 24.96], "nice": false, "zero": false}, "axis": {"values": [0, 6, 12, 18, 24], "labelExpr": "datum.value + ':00'"}}},
"layer": [
{"data": {"name": "curves"}, "transform": [{"filter": "datum.panel == 2"}], "mark": {"type": "area", "color": "#d3d3d3", "interpolate": "monotone"}, "encoding": {"y": {"aggregate": "min", "field": "density", "type": "quantitative", "title": "Activity density", "scale": {"domain": [-0.0033, 0.0845], "nice": false, "zero": false}, "axis": {"values": [0, 0.02, 0.04, 0.06, 0.08], "format": ".2f"}}}},
{"data": {"name": "rug"}, "transform": [{"filter": "datum.panel == 2 && datum.species == 'Sechuran fox'"}], "mark": {"type": "rule", "color": "#1a1aff", "strokeWidth": 1.5}, "encoding": {"y": {"datum": 0, "type": "quantitative"}, "y2": {"datum": -0.0019}}},
{"data": {"name": "rug"}, "transform": [{"filter": "datum.panel == 2 && datum.species == 'Pampas cat'"}], "mark": {"type": "rule", "color": "#555555", "strokeWidth": 0.8}, "encoding": {"y": {"datum": -0.0019, "type": "quantitative"}, "y2": {"datum": -0.0033}}},
{"data": {"name": "curves"}, "transform": [{"filter": "datum.panel == 2 && datum.species == 'Pampas cat'"}], "mark": {"type": "line", "interpolate": "monotone", "strokeWidth": 1.4}, "encoding": {"y": {"field": "density", "type": "quantitative", "title": "Activity density"}, "color": {"field": "species", "type": "nominal", "scale": {"domain": ["Pampas cat", "Sechuran fox", "Δ = 0.81", "p = 0.7866"], "range": ["#555555", "#8f8fcf", "transparent", "transparent"]}, "legend": {"orient": "none", "legendX": 218, "legendY": 19, "title": null}}}},
{"data": {"name": "curves"}, "transform": [{"filter": "datum.panel == 2 && datum.species == 'Sechuran fox'"}], "mark": {"type": "line", "interpolate": "monotone", "strokeWidth": 1.2, "strokeDash": [3, 2]}, "encoding": {"y": {"field": "density", "type": "quantitative", "title": "Activity density"}, "color": {"field": "species", "type": "nominal"}}}
]
},
{
"title": {"text": "Seasonally dry tropical forest", "offset": 9},
"width": 547, "height": 297,
"encoding": {"x": {"field": "time", "type": "quantitative", "title": "Time", "scale": {"domain": [-0.96, 24.96], "nice": false, "zero": false}, "axis": {"values": [0, 6, 12, 18, 24], "labelExpr": "datum.value + ':00'"}}},
"layer": [
{"data": {"name": "curves"}, "transform": [{"filter": "datum.panel == 3"}], "mark": {"type": "area", "color": "#d3d3d3", "interpolate": "monotone"}, "encoding": {"y": {"aggregate": "min", "field": "density", "type": "quantitative", "title": "Activity density", "scale": {"domain": [-0.0035, 0.0915], "nice": false, "zero": false}, "axis": {"values": [0, 0.02, 0.04, 0.06, 0.08], "format": ".2f"}}}},
{"data": {"name": "rug"}, "transform": [{"filter": "datum.panel == 3 && datum.species == 'Sechuran fox'"}], "mark": {"type": "rule", "color": "#3333ff", "strokeWidth": 1}, "encoding": {"y": {"datum": 0, "type": "quantitative"}, "y2": {"datum": -0.002}}},
{"data": {"name": "rug"}, "transform": [{"filter": "datum.panel == 3 && datum.species == 'Pampas cat'"}], "mark": {"type": "rule", "color": "#555555", "strokeWidth": 0.8}, "encoding": {"y": {"datum": -0.002, "type": "quantitative"}, "y2": {"datum": -0.0035}}},
{"data": {"name": "curves"}, "transform": [{"filter": "datum.panel == 3 && datum.species == 'Pampas cat'"}], "mark": {"type": "line", "interpolate": "monotone", "strokeWidth": 1.4}, "encoding": {"y": {"field": "density", "type": "quantitative", "title": "Activity density"}, "color": {"field": "species", "type": "nominal", "scale": {"domain": ["Pampas cat", "Sechuran fox", "Δ = 0.69", "p = 0.1006"], "range": ["#555555", "#8f8fcf", "transparent", "transparent"]}, "legend": {"orient": "none", "legendX": 218, "legendY": 19, "title": null}}}},
{"data": {"name": "curves"}, "transform": [{"filter": "datum.panel == 3 && datum.species == 'Sechuran fox'"}], "mark": {"type": "line", "interpolate": "monotone", "strokeWidth": 1.2, "strokeDash": [3, 2]}, "encoding": {"y": {"field": "density", "type": "quantitative", "title": "Activity density"}, "color": {"field": "species", "type": "nominal"}}}
]
}
],
"resolve": {"scale": {"x": "independent", "y": "independent", "color": "independent"}, "legend": {"color": "independent"}, "axis": {"x": "independent", "y": "independent"}},
"config": {
"font": "Liberation Sans",
"view": {"stroke": "#666666", "strokeWidth": 1},
"concat": {"spacing": 18},
"title": {"font": "Liberation Sans", "fontSize": 22, "fontWeight": "bold", "color": "#111111", "anchor": "middle"},
"axis": {"domain": false, "grid": false, "ticks": true, "tickColor": "#666666", "tickSize": 7, "labelFont": "Liberation Sans", "labelFontSize": 13, "labelColor": "#333333", "titleFont": "Liberation Sans", "titleFontSize": 13, "titleFontWeight": "normal", "titleColor": "#333333"},
"axisX": {"labelPadding": 5, "titlePadding": 14, "labelFlush": false},
"axisY": {"labelAngle": -90, "labelAlign": "center", "labelBaseline": "bottom", "labelPadding": -14, "titlePadding": 14},
"legend": {"symbolType": "M-2,0H2", "symbolSize": 324, "symbolStrokeWidth": 1.5, "labelFont": "Liberation Sans", "labelFontSize": 12.5, "labelColor": "#333333", "labelOffset": 27, "rowPadding": 5}
}
}
